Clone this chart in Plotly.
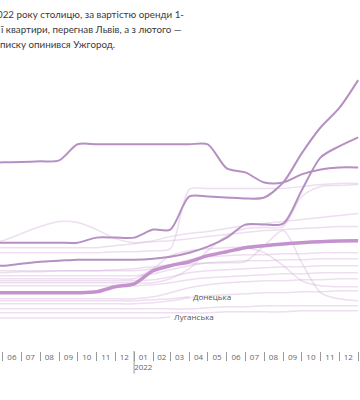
import plotly.graph_objects as go

# Monthly dates (month starts)
dates = ["2021-05-01", "2021-06-01", "2021-07-01", "2021-08-01", "2021-09-01", "2021-10-01",
         "2021-11-01", "2021-12-01", "2022-01-01", "2022-02-01", "2022-03-01", "2022-04-01",
         "2022-05-01", "2022-06-01", "2022-07-01", "2022-08-01", "2022-09-01", "2022-10-01",
         "2022-11-01", "2022-12-01", "2023-01-01"]

# Highlighted series (UAH, rent of a 1-room flat)
kyiv = [11400, 11400, 11420, 11450, 11500, 12300, 12300, 12300, 12300, 12300, 12300, 12300,
        12300, 11100, 10900, 10400, 10400, 10800, 11050, 11150, 11150]
uzhhorod = [7400, 7400, 7400, 7400, 7400, 7400, 7650, 7650, 7650, 8050, 8050, 9700,
            9700, 9650, 9600, 9650, 10400, 11850, 13150, 14100, 15500]
lviv = [6250, 6250, 6350, 6450, 6500, 6550, 6550, 6550, 6550, 6600, 6700, 6900,
        7200, 7650, 8300, 8300, 8350, 10000, 11650, 12200, 12650]
average = [4900, 4900, 4900, 4900, 4900, 4900, 4950, 5200, 5350, 6000, 6250, 6450,
           6750, 6950, 7150, 7250, 7330, 7400, 7450, 7480, 7500]

# Other regions (faint)
region_01 = [7350, 7500, 7850, 8200, 8450, 8400, 8050, 7600, 7400, 7450, 7500, 7600,
             7700, 7800, 7900, 8000, 8050, 8100, 8150, 8200, 8200]
region_02 = [6900, 6900, 6900, 6900, 6900, 6900, 6900, 6950, 6950, 7000, 7100, 10050,
             10100, 10100, 10100, 10100, 10100, 10200, 10300, 10350, 10350]
region_03 = [5900, 5900, 5950, 5950, 6000, 6000, 6000, 6050, 6100, 6200, 6300, 6350,
             6380, 6400, 6450, 7250, 8000, 6400, 4900, 4600, 4500]
region_04 = [5600, 5600, 5600, 5600, 5600, 5600, 5600, 5600, 5600, 6100, 6750, 7000,
             7100, 7150, 7150, 6900, 6250, 5500, 5250, 5200, 5200]
region_05 = [7150, 7150, 7150, 7150, 7150, 7150, 7150, 7250, 7350, 7500, 7700, 7850,
             7950, 8100, 8250, 8350, 8450, 8550, 8650, 8750, 8850]
region_06 = [5400, 5400, 5400, 5400, 5400, 5400, 5400, 5400, 5400, 5400, 5600, 6100,
             7000, 7750, 8100, 8150, 8200, 9700, 10200, 10250, 10300]
region_07 = [6000, 6000, 6000, 6000, 6000, 6000, 6000, 6000, 6000, 6100, 6300, 6550,
             6700, 6750, 6800, 6800, 6850, 6850, 6900, 6900, 6900]
region_08 = [5750, 5750, 5750, 5750, 5750, 5750, 5750, 5750, 5750, 5850, 6050, 6250,
             6400, 6450, 6500, 6500, 6550, 6550, 6600, 6600, 6600]
region_09 = [5500, 5500, 5500, 5500, 5500, 5500, 5500, 5500, 5500, 5550, 5700, 5900,
             6000, 6050, 6100, 6150, 6200, 6200, 6250, 6250, 6250]
region_10 = [5250, 5250, 5250, 5250, 5250, 5250, 5250, 5250, 5250, 5300, 5400, 5550,
             5650, 5700, 5750, 5800, 5850, 5850, 5900, 5900, 5900]
region_11 = [4600, 4600, 4600, 4600, 4600, 4600, 4600, 4600, 4600, 4700, 4900, 5150,
             5300, 5400, 5450, 5500, 5500, 5550, 5550, 5600, 5600]
region_12 = [4350, 4350, 4350, 4350, 4350, 4350, 4350, 4350, 4350, 4400, 4500, 4650,
             4750, 4800, 4850, 4900, 4900, 4950, 4950, 5000, 5000]
region_13 = [4100, 4100, 4100, 4100, 4100, 4100, 4100, 4100, 4100, 4100, 4100, 4100,
             4150, 4200, 4200, 4250, 4250, 4250, 4250, 4250, 4250]
region_14 = [3900, 3900, 3900, 3900, 3900, 3900, 3900, 3900, 3900, 3900, 3900, 3900,
             3900, 3950, 3950, 3950, 3950, 4000, 4000, 4000, 4000]
donetska = [4500, 4500, 4500, 4500, 4500, 4500, 4500, 4500, 4500, 4550, 4600, 4700,
            None, None, None, None, None, None, None, None, None]
luhanska = [3650, 3650, 3650, 3650, 3650, 3650, 3650, 3650, 3650, 3650, 3700, None,
            None, None, None, None, None, None, None, None, None]

# Axis ticks
month_starts = dates[1:]
label_dates = ["2021-06-16", "2021-07-16", "2021-08-16", "2021-09-16", "2021-10-16", "2021-11-16",
               "2021-12-16", "2022-01-16", "2022-02-15", "2022-03-16", "2022-04-16", "2022-05-16",
               "2022-06-16", "2022-07-16", "2022-08-16", "2022-09-16", "2022-10-16", "2022-11-16",
               "2022-12-16"]
month_labels = ["06", "07", "08", "09", "10", "11", "12", "01<br>2022", "02", "03", "04", "05",
                "06", "07", "08", "09", "10", "11", "12"]

title_lines = ["022 року столицю, за вартістю оренди 1-",
               "ї квартири, перегнав Львів, а з лютого —",
               "писку опинився Ужгород."]

FAINT = "rgba(212,176,220,0.42)"
HIGH = "#b690c2"
AVG = "#c493ce"

fig = go.Figure()

faint_series = [region_01, region_02, region_03, region_04, region_05, region_06, region_07,
                region_08, region_09, region_10, region_11, region_12, region_13, region_14,
                donetska, luhanska]
for s in faint_series:
    fig.add_trace(go.Scatter(x=dates, y=s, mode="lines",
                             line=dict(color=FAINT, width=1.5, shape="spline", smoothing=0.8),
                             hoverinfo="skip", showlegend=False))

for s in [kyiv, uzhhorod, lviv]:
    fig.add_trace(go.Scatter(x=dates, y=s, mode="lines",
                             line=dict(color=HIGH, width=2, shape="spline", smoothing=0.8),
                             hoverinfo="skip", showlegend=False))

fig.add_trace(go.Scatter(x=dates, y=average, mode="lines",
                         line=dict(color=AVG, width=3.5, shape="spline", smoothing=0.8),
                         hoverinfo="skip", showlegend=False))

# End labels for series that stop
def last_point(series):
    idx = max(i for i, v in enumerate(series) if v is not None)
    return dates[idx], series[idx]

for name, s in [("Донецька", donetska), ("Луганська", luhanska)]:
    xd, yv = last_point(s)
    fig.add_annotation(x=xd, y=yv, text=name, showarrow=False, xanchor="left", yanchor="middle",
                       xshift=2, font=dict(family="Open Sans", size=8, color="#555555"))

# Title text (cropped on the left in the reference)
for i, (t, yp) in enumerate(zip(title_lines, [1.118, 1.07, 1.02])):
    fig.add_annotation(xref="paper", yref="paper", x=0, y=yp, text=t, showarrow=False,
                       xanchor="left", yanchor="middle", align="left",
                       xshift=-5 if i == 0 else -2,
                       font=dict(family="Lato", size=9.8, color="#3a3a3a"))

# Longer tick at the year boundary
fig.add_shape(type="line", xref="x", yref="paper", x0="2022-01-01", x1="2022-01-01",
              y0=0, y1=-0.075, line=dict(color="#9a9a9a", width=1))

fig.update_layout(
    width=360, height=400,
    margin=dict(l=0, r=0, t=50, b=49, autoexpand=False),
    paper_bgcolor="white", plot_bgcolor="white",
    showlegend=False,
    xaxis=dict(type="date", range=["2021-05-27 14:00", "2023-01-04"],
               tickmode="array", tickvals=label_dates, ticktext=month_labels,
               ticks="", showgrid=False, zeroline=False, showline=False, automargin=False,
               tickfont=dict(family="Open Sans", size=8, color="#666666"),
               minor=dict(tickmode="array", tickvals=month_starts, ticks="outside",
                          ticklen=9, tickwidth=1, tickcolor="#9a9a9a", showgrid=False)),
    yaxis=dict(range=[2000, 17000], visible=False, showgrid=False, zeroline=False),
)

fig.write_html("out.html", config={"displayModeBar": False},
               post_script="document.body.style.margin='0';")
